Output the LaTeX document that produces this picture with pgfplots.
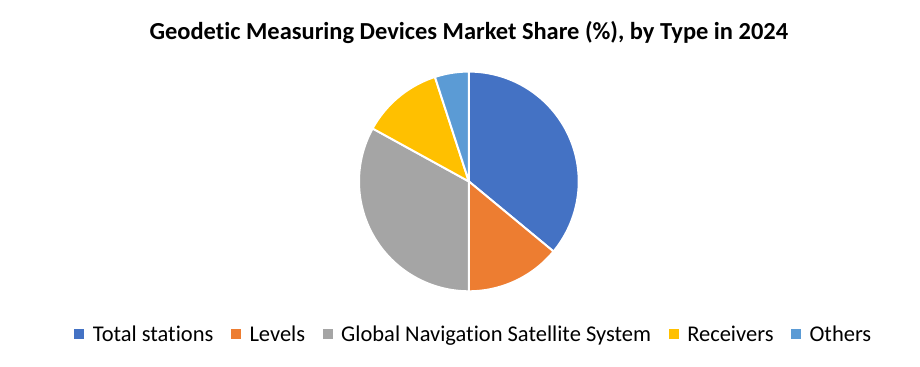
\documentclass[border=0pt]{standalone}
\usepackage{pgfplots}
\usepackage{pgfplotstable}
\pgfplotsset{compat=1.18}
\usepackage{fontspec}
\setmainfont{Carlito}[RawFeature=-liga]
\definecolor{c1}{HTML}{4472C4}
\definecolor{c2}{HTML}{ED7D31}
\definecolor{c3}{HTML}{A5A5A5}
\definecolor{c4}{HTML}{FFC000}
\definecolor{c5}{HTML}{5B9BD5}
\pgfplotstableread{
type share
TotalStations 36
Levels 14
GNSS 33
Receivers 12
Others 5
}\sharetable
\begin{document}
\pgfplotstablegetelem{0}{share}\of\sharetable\let\va\pgfplotsretval
\pgfplotstablegetelem{1}{share}\of\sharetable\let\vb\pgfplotsretval
\pgfplotstablegetelem{2}{share}\of\sharetable\let\vc\pgfplotsretval
\pgfplotstablegetelem{3}{share}\of\sharetable\let\vd\pgfplotsretval
\pgfplotstablegetelem{4}{share}\of\sharetable\let\ve\pgfplotsretval
\pgfmathsetmacro\aA{90}
\pgfmathsetmacro\aB{\aA-3.6*\va}
\pgfmathsetmacro\aC{\aB-3.6*\vb}
\pgfmathsetmacro\aD{\aC-3.6*\vc}
\pgfmathsetmacro\aE{\aD-3.6*\vd}
\pgfmathsetmacro\aF{\aE-3.6*\ve}
\begin{tikzpicture}[x=0.75pt,y=-0.75pt]
\coordinate (C) at (460,185);
\node[font=\fontsize{18.7pt}{22pt}\selectfont\bfseries] at (460,33) {Geodetic Measuring Devices Market Share (\%), by Type in 2024};
\begin{axis}[
  at={(C)}, anchor=center,
  width=168pt, height=168pt, scale only axis,
  xmin=-1, xmax=1, ymin=-1, ymax=1,
  hide axis, clip=false,
  legend columns=5,
  legend style={draw=none, fill=none, at={(0.518,-0.196)}, anchor=center,
    font=\fontsize{17.2pt}{20pt}\selectfont,
    nodes={inner xsep=0pt},
    /tikz/every odd column/.append style={column sep=6.5pt},
    /tikz/every even column/.append style={column sep=13.5pt},
    inner sep=0pt, outer sep=0pt},
  legend image code/.code={\path[#1,draw=none] (0pt,-3.8pt) rectangle (7.6pt,3.8pt);},
  every axis plot/.append style={draw=white, line width=1.5pt, samples=80, variable=\t},
]
\addplot[fill=c1, domain=\aB:\aA] ({cos(\t)},{sin(\t)}) -- (axis cs:0,0) -- cycle;
\addlegendentry{Total stations}
\addplot[fill=c2, domain=\aC:\aB] ({cos(\t)},{sin(\t)}) -- (axis cs:0,0) -- cycle;
\addlegendentry{Levels}
\addplot[fill=c3, domain=\aD:\aC] ({cos(\t)},{sin(\t)}) -- (axis cs:0,0) -- cycle;
\addlegendentry{Global Navigation Satellite System}
\addplot[fill=c4, domain=\aE:\aD] ({cos(\t)},{sin(\t)}) -- (axis cs:0,0) -- cycle;
\addlegendentry{Receivers}
\addplot[fill=c5, domain=\aF:\aE] ({cos(\t)},{sin(\t)}) -- (axis cs:0,0) -- cycle;
\addlegendentry{Others}
\end{axis}
\pgfresetboundingbox
\path[use as bounding box] (0,0) rectangle (920,374);
\end{tikzpicture}
\end{document}
